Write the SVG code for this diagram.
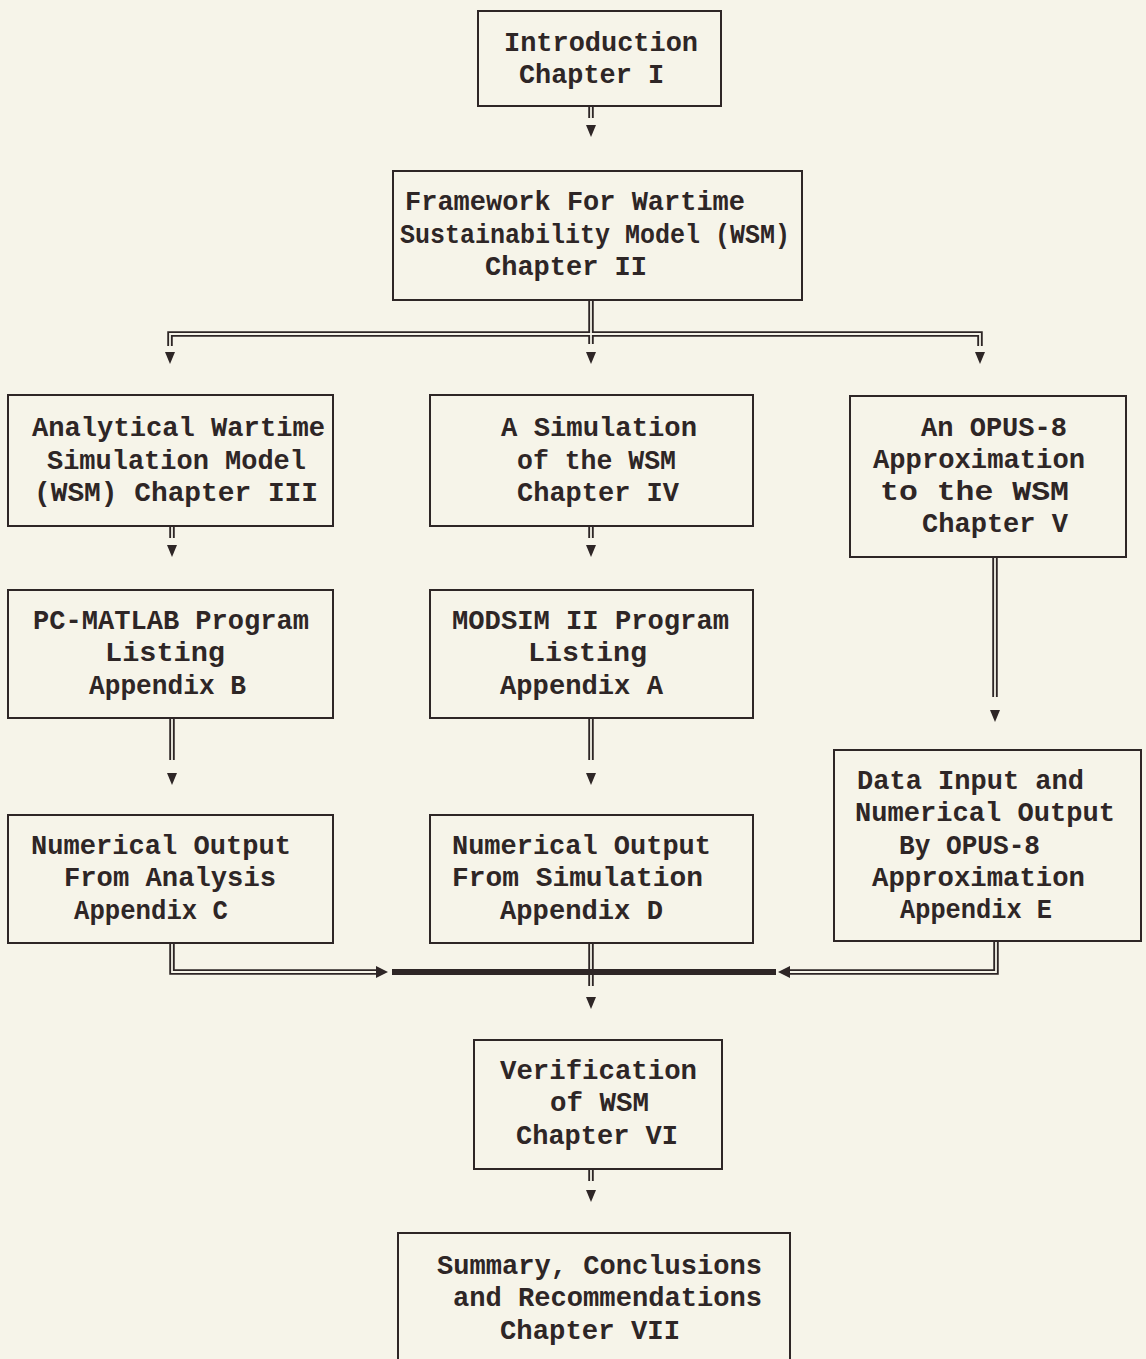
<svg xmlns="http://www.w3.org/2000/svg" width="1146" height="1359" viewBox="0 0 1146 1359">
<style>
.box{fill:none;stroke:#2e2626;stroke-width:2}
.t{font-family:"Liberation Mono","Courier New",monospace;font-size:27px;font-weight:bold;fill:#2e2626}
.dl{fill:none;stroke:#2e2626;stroke-width:5.5}
.dli{fill:none;stroke:#f6f4e9;stroke-width:1.8}
.hv{fill:none;stroke:#2e2626;stroke-width:6}
.ah{fill:#2e2626}
</style>
<rect x="0" y="0" width="1146" height="1359" fill="#f6f4e9"/>
<g id="connectors">
  <path class="dl" d="M591,106V118 M591,300V344 M170,346V334H980V346 M172,526V538 M591,526V538 M995,557V697 M172,718V760 M591,718V760 M172,943V972H376 M996,941V972H790 M591,943V986 M591,1169V1181"/>
  <path class="dli" d="M591,106V118 M591,300V344 M170,346V334H980V346 M172,526V538 M591,526V538 M995,557V697 M172,718V760 M591,718V760 M172,943V972H376 M996,941V972H790 M591,943V986 M591,1169V1181"/>
  <path class="hv" d="M392,972H776"/>
  <polygon class="ah" points="586,125 596,125 591,137"/>
  <polygon class="ah" points="165,352 175,352 170,364"/>
  <polygon class="ah" points="586,352 596,352 591,364"/>
  <polygon class="ah" points="975,352 985,352 980,364"/>
  <polygon class="ah" points="167,545 177,545 172,557"/>
  <polygon class="ah" points="586,545 596,545 591,557"/>
  <polygon class="ah" points="990,710 1000,710 995,722"/>
  <polygon class="ah" points="167,773 177,773 172,785"/>
  <polygon class="ah" points="586,773 596,773 591,785"/>
  <polygon class="ah" points="376,966 376,978 388,972"/>
  <polygon class="ah" points="790,966 790,978 778,972"/>
  <polygon class="ah" points="586,997 596,997 591,1009"/>
  <polygon class="ah" points="586,1190 596,1190 591,1202"/>
</g>
<g id="intro">
  <rect class="box" x="478" y="11" width="243" height="95"/>
  <text class="t" x="504" y="51" textLength="194" lengthAdjust="spacingAndGlyphs">Introduction</text>
  <text class="t" x="519" y="83" textLength="145" lengthAdjust="spacingAndGlyphs">Chapter I</text>
</g>
<g id="framework">
  <rect class="box" x="393" y="171" width="409" height="129"/>
  <text class="t" x="405" y="210" textLength="340" lengthAdjust="spacingAndGlyphs">Framework For Wartime</text>
  <text class="t" x="400" y="243" textLength="390" lengthAdjust="spacingAndGlyphs">Sustainability Model (WSM)</text>
  <text class="t" x="485" y="275" textLength="162" lengthAdjust="spacingAndGlyphs">Chapter II</text>
</g>
<g id="analytical">
  <rect class="box" x="8" y="395" width="325" height="131"/>
  <text class="t" x="32" y="436" textLength="293" lengthAdjust="spacingAndGlyphs">Analytical Wartime</text>
  <text class="t" x="47" y="469" textLength="259" lengthAdjust="spacingAndGlyphs">Simulation Model</text>
  <text class="t" x="34" y="501" textLength="284" lengthAdjust="spacingAndGlyphs">(WSM) Chapter III</text>
</g>
<g id="simulation">
  <rect class="box" x="430" y="395" width="323" height="131"/>
  <text class="t" x="501" y="436" textLength="196" lengthAdjust="spacingAndGlyphs">A Simulation</text>
  <text class="t" x="517" y="469" textLength="159" lengthAdjust="spacingAndGlyphs">of the WSM</text>
  <text class="t" x="517" y="501" textLength="162" lengthAdjust="spacingAndGlyphs">Chapter IV</text>
</g>
<g id="opus">
  <rect class="box" x="850" y="396" width="276" height="161"/>
  <text class="t" x="921" y="436" textLength="146" lengthAdjust="spacingAndGlyphs">An OPUS-8</text>
  <text class="t" x="873" y="468" textLength="212" lengthAdjust="spacingAndGlyphs">Approximation</text>
  <text class="t" x="880" y="500" textLength="189" lengthAdjust="spacingAndGlyphs">to the WSM</text>
  <text class="t" x="922" y="532" textLength="146" lengthAdjust="spacingAndGlyphs">Chapter V</text>
</g>
<g id="pcmatlab">
  <rect class="box" x="8" y="590" width="325" height="128"/>
  <text class="t" x="33" y="629" textLength="276" lengthAdjust="spacingAndGlyphs">PC-MATLAB Program</text>
  <text class="t" x="105" y="661" textLength="120" lengthAdjust="spacingAndGlyphs">Listing</text>
  <text class="t" x="89" y="694" textLength="157" lengthAdjust="spacingAndGlyphs">Appendix B</text>
</g>
<g id="modsim">
  <rect class="box" x="430" y="590" width="323" height="128"/>
  <text class="t" x="452" y="629" textLength="277" lengthAdjust="spacingAndGlyphs">MODSIM II Program</text>
  <text class="t" x="528" y="661" textLength="119" lengthAdjust="spacingAndGlyphs">Listing</text>
  <text class="t" x="500" y="694" textLength="163" lengthAdjust="spacingAndGlyphs">Appendix A</text>
</g>
<g id="datainput">
  <rect class="box" x="834" y="750" width="307" height="191"/>
  <text class="t" x="857" y="789" textLength="227" lengthAdjust="spacingAndGlyphs">Data Input and</text>
  <text class="t" x="855" y="821" textLength="260" lengthAdjust="spacingAndGlyphs">Numerical Output</text>
  <text class="t" x="899" y="854" textLength="141" lengthAdjust="spacingAndGlyphs">By OPUS-8</text>
  <text class="t" x="872" y="886" textLength="213" lengthAdjust="spacingAndGlyphs">Approximation</text>
  <text class="t" x="900" y="918" textLength="152" lengthAdjust="spacingAndGlyphs">Appendix E</text>
</g>
<g id="numanalysis">
  <rect class="box" x="8" y="815" width="325" height="128"/>
  <text class="t" x="31" y="854" textLength="260" lengthAdjust="spacingAndGlyphs">Numerical Output</text>
  <text class="t" x="64" y="886" textLength="212" lengthAdjust="spacingAndGlyphs">From Analysis</text>
  <text class="t" x="74" y="919" textLength="154" lengthAdjust="spacingAndGlyphs">Appendix C</text>
</g>
<g id="numsimulation">
  <rect class="box" x="430" y="815" width="323" height="128"/>
  <text class="t" x="452" y="854" textLength="259" lengthAdjust="spacingAndGlyphs">Numerical Output</text>
  <text class="t" x="452" y="886" textLength="251" lengthAdjust="spacingAndGlyphs">From Simulation</text>
  <text class="t" x="500" y="919" textLength="163" lengthAdjust="spacingAndGlyphs">Appendix D</text>
</g>
<g id="verification">
  <rect class="box" x="474" y="1040" width="248" height="129"/>
  <text class="t" x="500" y="1079" textLength="197" lengthAdjust="spacingAndGlyphs">Verification</text>
  <text class="t" x="550" y="1111" textLength="99" lengthAdjust="spacingAndGlyphs">of WSM</text>
  <text class="t" x="516" y="1144" textLength="162" lengthAdjust="spacingAndGlyphs">Chapter VI</text>
</g>
<g id="summary">
  <rect class="box" x="398" y="1233" width="392" height="132"/>
  <text class="t" x="437" y="1274" textLength="325" lengthAdjust="spacingAndGlyphs">Summary, Conclusions</text>
  <text class="t" x="453" y="1306" textLength="309" lengthAdjust="spacingAndGlyphs">and Recommendations</text>
  <text class="t" x="500" y="1339" textLength="180" lengthAdjust="spacingAndGlyphs">Chapter VII</text>
</g>
</svg>
